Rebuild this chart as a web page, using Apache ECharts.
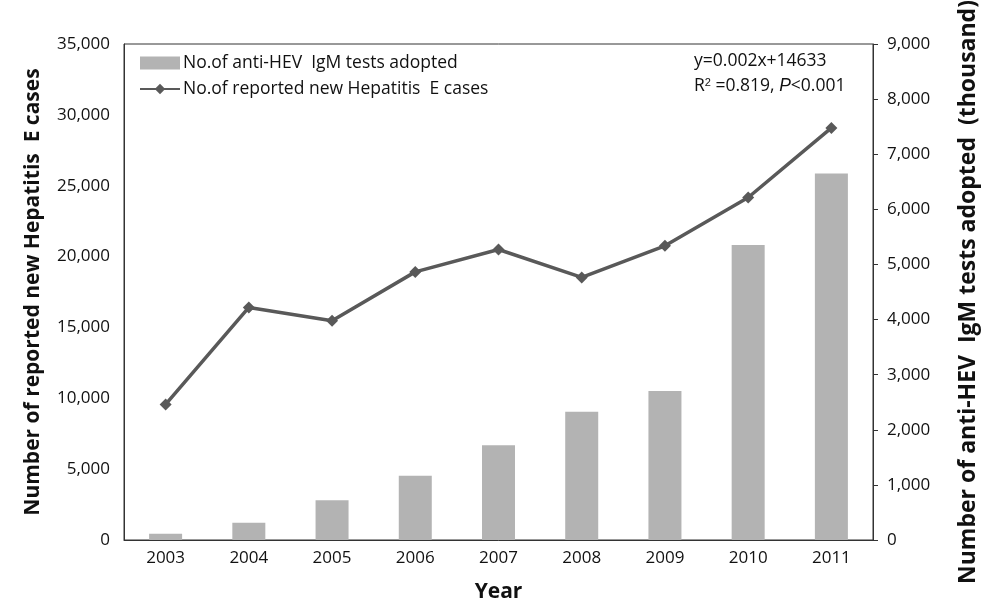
<!DOCTYPE html>
<html>
<head>
<meta charset="utf-8">
<script src="https://cdn.jsdelivr.net/npm/echarts@6/dist/echarts.min.js"></script>
<style>
  html, body { margin: 0; padding: 0; background: #fff; }
  #chart { width: 982px; height: 606px; }
</style>
</head>
<body>
<div id="chart"></div>
<script>
var years = ['2003', '2004', '2005', '2006', '2007', '2008', '2009', '2010', '2011'];
// anti-HEV IgM tests (thousand), right axis
var testData = [115, 314, 720, 1167, 1718, 2329, 2704, 5354, 6650];
// reported new Hepatitis E cases, left axis
var caseData = [9570, 16410, 15470, 18920, 20500, 18530, 20760, 24170, 29080];

var fontFam = '"Open Sans", "Noto Sans", sans-serif';

var myChart = echarts.init(document.getElementById('chart'));

function thousands(v) {
    return v.toLocaleString('en-US');
}

var option = {
    backgroundColor: '#fff',
    animation: false,
    textStyle: { fontFamily: fontFam },
    grid: {
        left: 124,
        right: 109,
        top: 44,
        bottom: 66,
        outerBoundsMode: 'none',
        containLabel: false,
        show: true,
        borderColor: '#333',
        borderWidth: 1
    },
    legend: {
        orient: 'vertical',
        left: 134,
        top: 49,
        itemGap: 8,
        itemWidth: 40,
        itemHeight: 13,
        textStyle: { fontSize: 17.5, color: '#111', fontFamily: fontFam, padding: [0, 0, 0, -2] },
        data: [
            { name: 'No.of anti-HEV  IgM tests adopted', icon: 'rect' },
            { name: 'No.of reported new Hepatitis  E cases' }
        ]
    },
    graphic: [{
        type: 'text',
        left: 694,
        top: 52,
        style: {
            text: 'y=0.002x+14633',
            font: '17.5px ' + fontFam,
            fill: '#111'
        }
    }, {
        type: 'text',
        left: 694,
        top: 77,
        style: {
            text: 'R{sup|2} =0.819, {it|P}<0.001',
            font: '17.5px ' + fontFam,
            fill: '#111',
            rich: {
                sup: { fontSize: 11, verticalAlign: 'top', padding: [0, 0, 7, 0], fill: '#111' },
                it: { fontStyle: 'italic', fontSize: 17.5, fill: '#111' }
            }
        }
    }],
    xAxis: [{
        type: 'category',
        data: years,
        name: 'Year',
        nameLocation: 'middle',
        nameGap: 42,
        nameTextStyle: { fontSize: 21, fontWeight: 'bold', color: '#111' },
        axisLine: { lineStyle: { color: '#333', width: 1 } },
        axisTick: { show: false },
        axisLabel: { fontSize: 17, color: '#111', margin: 10 }
    }],
    yAxis: [{
        type: 'value',
        min: 0,
        max: 35000,
        interval: 5000,
        name: 'Number of reported new Hepatitis  E cases',
        nameLocation: 'middle',
        nameGap: 80,
        nameTextStyle: { fontSize: 21, fontWeight: 'bold', color: '#111' },
        axisLine: { show: true, lineStyle: { color: '#333' } },
        axisTick: { show: false },
        splitLine: { show: false },
        axisLabel: { fontSize: 17, color: '#111', margin: 14, formatter: thousands }
    }, {
        type: 'value',
        min: 0,
        max: 9000,
        interval: 1000,
        position: 'right',
        name: 'Number of anti-HEV  IgM tests adopted  (thousand)',
        nameLocation: 'middle',
        nameGap: 84,
        nameRotate: 90,
        nameTextStyle: { fontSize: 23, fontWeight: 'bold', color: '#111' },
        axisLine: { show: true, lineStyle: { color: '#333' } },
        axisTick: { show: true, length: 5, lineStyle: { color: '#333' } },
        splitLine: { show: false },
        axisLabel: { fontSize: 17, color: '#111', margin: 14, formatter: thousands }
    }],
    series: [{
        name: 'No.of anti-HEV  IgM tests adopted',
        type: 'bar',
        yAxisIndex: 1,
        barWidth: 33,
        itemStyle: { color: '#b3b3b3' },
        data: testData
    }, {
        name: 'No.of reported new Hepatitis  E cases',
        type: 'line',
        yAxisIndex: 0,
        symbol: 'diamond',
        symbolSize: 12,
        lineStyle: { color: '#595959', width: 3.5 },
        itemStyle: { color: '#595959' },
        data: caseData
    }]
};

myChart.setOption(option);
</script>
</body>
</html>
